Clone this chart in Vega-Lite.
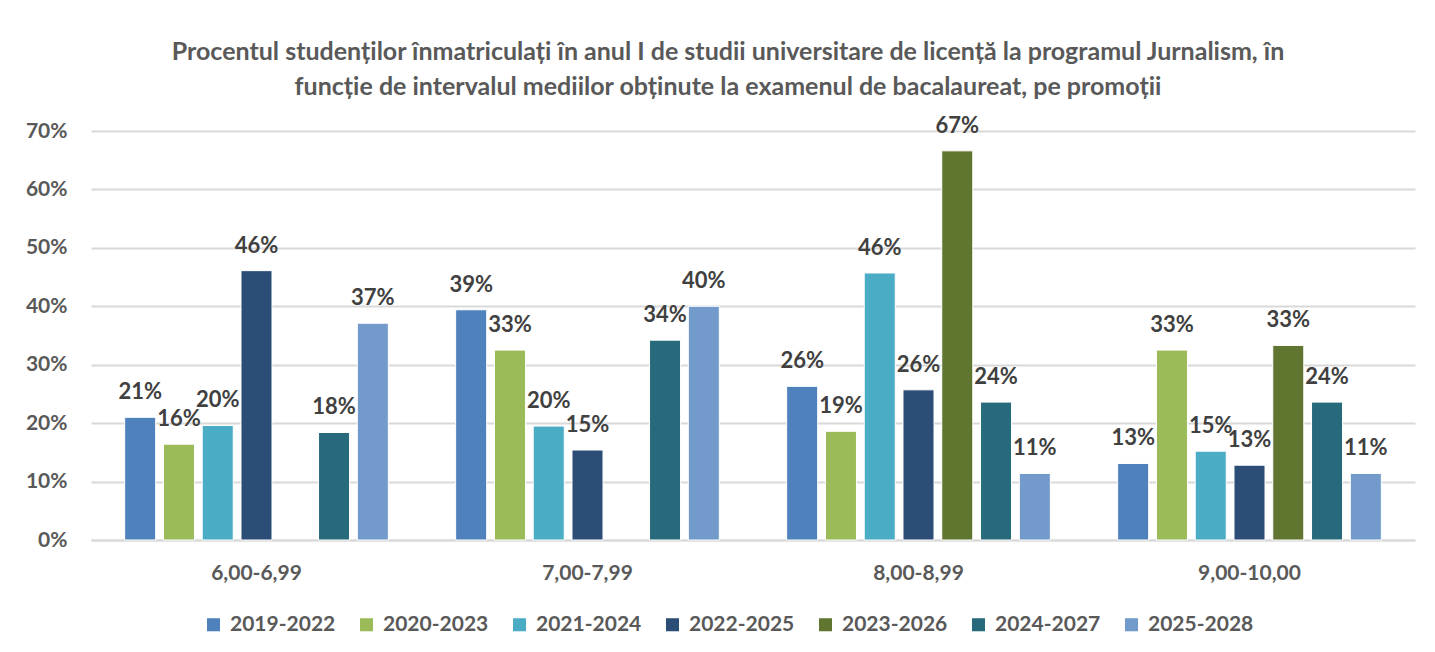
{
  "$schema": "https://vega.github.io/schema/vega-lite/v6.json",
  "autosize": {"type": "none"},
  "padding": {"left": 91, "top": 131, "right": 20, "bottom": 112},
  "width": 1324,
  "height": 409,
  "background": "white",
  "title": {
    "text": ["Procentul studenților înmatriculați în anul I de studii universitare de licență la programul Jurnalism, în", "funcție de intervalul mediilor obținute la examenul de bacalaureat, pe promoții"],
    "font": "Lato",
    "fontSize": 25,
    "fontWeight": "bold",
    "color": "#595959",
    "lineHeight": 35,
    "anchor": "middle",
    "dx": -25,
    "offset": 15
  },
  "data": {
    "values": [
      {"interval": "6,00-6,99", "promotie": "2019-2022", "procent": 0.21},
      {"interval": "6,00-6,99", "promotie": "2020-2023", "procent": 0.164},
      {"interval": "6,00-6,99", "promotie": "2021-2024", "procent": 0.196},
      {"interval": "6,00-6,99", "promotie": "2022-2025", "procent": 0.461},
      {"interval": "6,00-6,99", "promotie": "2024-2027", "procent": 0.184},
      {"interval": "6,00-6,99", "promotie": "2025-2028", "procent": 0.371},
      {"interval": "7,00-7,99", "promotie": "2019-2022", "procent": 0.394},
      {"interval": "7,00-7,99", "promotie": "2020-2023", "procent": 0.325},
      {"interval": "7,00-7,99", "promotie": "2021-2024", "procent": 0.195},
      {"interval": "7,00-7,99", "promotie": "2022-2025", "procent": 0.154},
      {"interval": "7,00-7,99", "promotie": "2024-2027", "procent": 0.342},
      {"interval": "7,00-7,99", "promotie": "2025-2028", "procent": 0.40},
      {"interval": "8,00-8,99", "promotie": "2019-2022", "procent": 0.263},
      {"interval": "8,00-8,99", "promotie": "2020-2023", "procent": 0.186},
      {"interval": "8,00-8,99", "promotie": "2021-2024", "procent": 0.457},
      {"interval": "8,00-8,99", "promotie": "2022-2025", "procent": 0.257},
      {"interval": "8,00-8,99", "promotie": "2023-2026", "procent": 0.666},
      {"interval": "8,00-8,99", "promotie": "2024-2027", "procent": 0.236},
      {"interval": "8,00-8,99", "promotie": "2025-2028", "procent": 0.114},
      {"interval": "9,00-10,00", "promotie": "2019-2022", "procent": 0.131},
      {"interval": "9,00-10,00", "promotie": "2020-2023", "procent": 0.325},
      {"interval": "9,00-10,00", "promotie": "2021-2024", "procent": 0.152},
      {"interval": "9,00-10,00", "promotie": "2022-2025", "procent": 0.128},
      {"interval": "9,00-10,00", "promotie": "2023-2026", "procent": 0.333},
      {"interval": "9,00-10,00", "promotie": "2024-2027", "procent": 0.236},
      {"interval": "9,00-10,00", "promotie": "2025-2028", "procent": 0.114}
    ]
  },
  "encoding": {
    "x": {
      "field": "interval",
      "type": "nominal",
      "sort": null,
      "scale": {"paddingInner": 0.18, "paddingOuter": 0.09},
      "axis": {
        "title": null,
        "labelAngle": 0,
        "labelFont": "Lato",
        "labelFontSize": 21,
        "labelFontWeight": "bold",
        "labelColor": "#595959",
        "labelPadding": 22,
        "ticks": false,
        "domainColor": "#d9d9d9",
        "domainWidth": 2
      }
    },
    "xOffset": {
      "field": "promotie",
      "type": "nominal",
      "scale": {"domain": ["2019-2022", "2020-2023", "2021-2024", "2022-2025", "2023-2026", "2024-2027", "2025-2028"], "paddingInner": 0.2, "paddingOuter": 0.1}
    },
    "y": {
      "field": "procent",
      "type": "quantitative",
      "scale": {"domain": [0, 0.7], "nice": false},
      "axis": {
        "title": null,
        "format": ".0%",
        "values": [0, 0.1, 0.2, 0.3, 0.4, 0.5, 0.6, 0.7],
        "labelFont": "Lato",
        "labelFontSize": 21,
        "labelFontWeight": "bold",
        "labelColor": "#595959",
        "labelPadding": 24,
        "ticks": false,
        "domain": false,
        "gridColor": "#d9d9d9",
        "gridWidth": 2
      }
    }
  },
  "layer": [
    {
      "mark": {"type": "bar", "stroke": "white", "strokeWidth": 1},
      "encoding": {
        "color": {
          "field": "promotie",
          "type": "nominal",
          "scale": {
            "domain": ["2019-2022", "2020-2023", "2021-2024", "2022-2025", "2023-2026", "2024-2027", "2025-2028"],
            "range": ["#4F81BD", "#9BBB59", "#4BACC6", "#2C4D75", "#5F7530", "#276A7C", "#729ACA"]
          },
          "legend": {
            "title": null,
            "orient": "none",
            "direction": "horizontal",
            "legendX": 112,
            "legendY": 483,
            "symbolType": "square",
            "symbolSize": 170,
            "symbolStrokeWidth": 0,
            "labelFont": "Lato",
            "labelFontSize": 21,
            "labelFontWeight": "bold",
            "labelColor": "#595959",
            "columnPadding": 20,
            "labelOffset": 6
          }
        }
      }
    },
    {
      "mark": {"type": "text", "baseline": "middle", "dy": -25, "font": "Lato", "fontSize": 22, "fontWeight": "bold", "color": "#404040"},
      "encoding": {
        "text": {"field": "procent", "type": "quantitative", "format": ".0%"}
      }
    }
  ],
  "config": {
    "view": {"stroke": null}
  }
}
